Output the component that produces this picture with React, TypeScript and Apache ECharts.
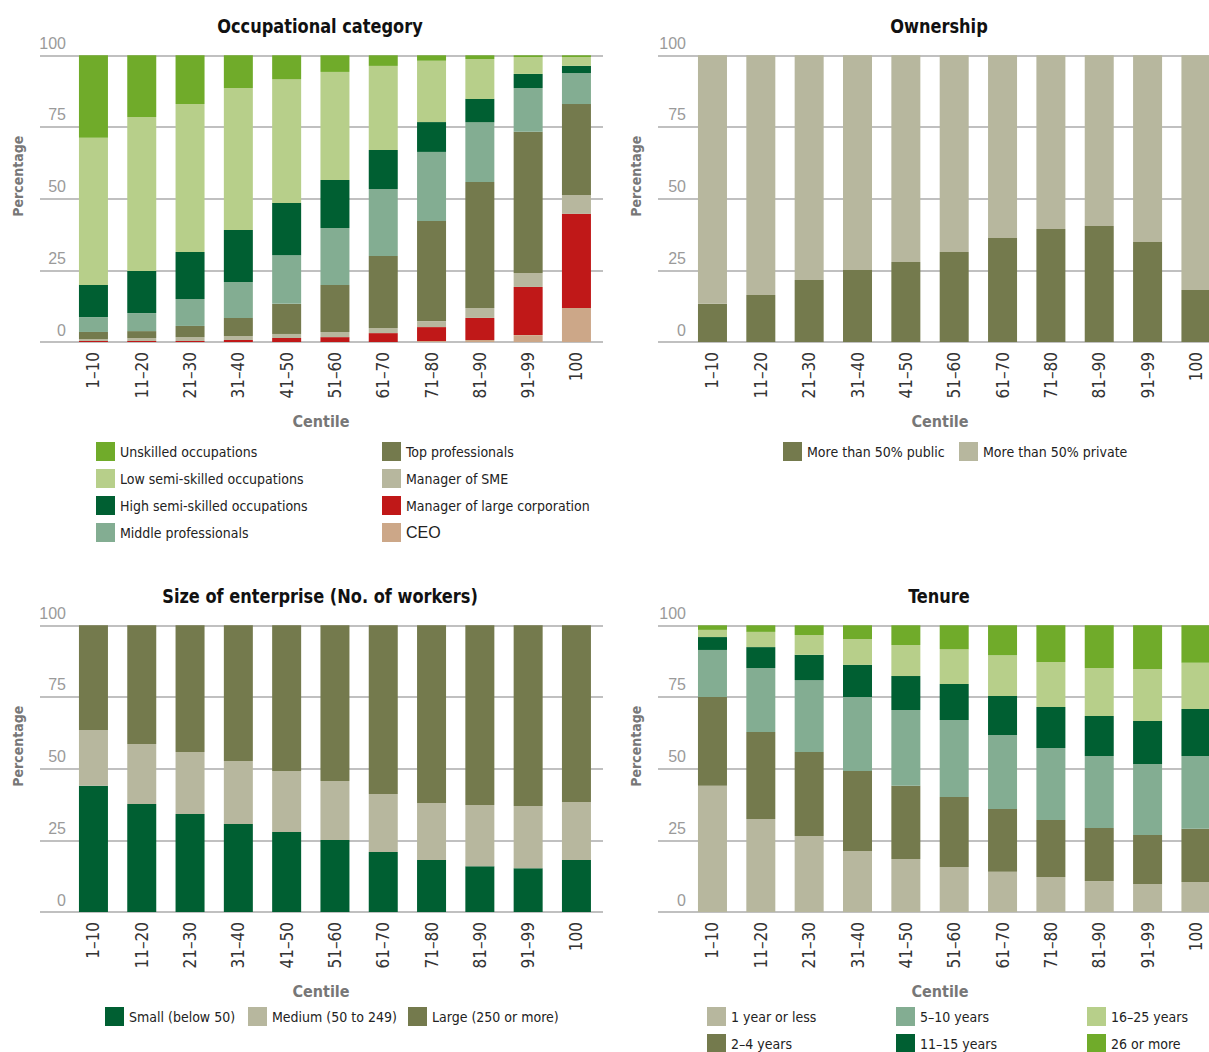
import React, { useEffect, useRef } from "react";
import * as echarts from "echarts";

// ---------- data ----------
const categories = ["1–10", "11–20", "21–30", "31–40", "41–50", "51–60", "61–70", "71–80", "81–90", "91–99", "100"];
const yTicks = [0, 25, 50, 75, 100];

// Occupational category (bottom → top)
const ceo = [0, 0, 0, 0, 0, 0, 0, 0.35, 0.7, 2.4, 11.9];
const managerLarge = [0.35, 0.35, 0.35, 0.7, 1.4, 1.7, 3.1, 4.85, 7.7, 16.8, 32.8];
const managerSME = [0.7, 1.05, 1.35, 1.4, 1.4, 1.8, 1.8, 2.1, 3.5, 4.9, 6.6];
const topProf = [2.45, 2.4, 3.9, 6.3, 10.5, 16.4, 25.1, 34.9, 43.9, 49.2, 31.7];
const middleProf = [5.2, 6.3, 9.4, 12.5, 17.0, 19.9, 23.4, 24.1, 20.9, 15.3, 10.8];
const highSemi = [11.2, 14.7, 16.4, 18.2, 18.2, 16.7, 13.6, 10.4, 8.1, 4.9, 2.5];
const lowSemi = [51.3, 53.7, 51.6, 49.5, 43.2, 37.7, 29.3, 21.4, 13.9, 5.9, 3.1];
const unskilled = [28.8, 21.5, 17.0, 11.4, 8.3, 5.8, 3.7, 1.9, 1.3, 0.6, 0.6];

// Ownership
const publicOwn = [13.3, 16.4, 21.6, 25.1, 27.9, 31.4, 36.3, 39.4, 40.5, 34.9, 18.1];
const privateOwn = [86.7, 83.6, 78.4, 74.9, 72.1, 68.6, 63.7, 60.6, 59.5, 65.1, 81.9];

// Size of enterprise
const sizeSmall = [44.0, 37.7, 34.2, 30.7, 27.9, 25.1, 20.9, 18.1, 16.0, 15.3, 18.1];
const sizeMedium = [19.5, 20.9, 21.6, 22.0, 21.3, 20.6, 20.3, 19.9, 21.3, 21.7, 20.3];
const sizeLarge = [36.5, 41.4, 44.2, 47.3, 50.8, 54.3, 58.8, 62.0, 62.7, 63.0, 61.6];

// Tenure
const ten1 = [44.0, 32.4, 26.5, 21.3, 18.5, 15.7, 14.0, 12.2, 10.8, 9.8, 10.5];
const ten2to4 = [31.0, 30.4, 29.3, 27.9, 25.5, 24.4, 21.9, 19.9, 18.5, 17.1, 18.5];
const ten5to10 = [16.4, 22.3, 25.1, 25.8, 26.5, 26.9, 25.8, 25.1, 25.1, 24.7, 25.4];
const ten11to15 = [4.5, 7.3, 8.8, 11.2, 11.8, 12.5, 13.6, 14.3, 14.0, 15.0, 16.4];
const ten16to25 = [2.5, 5.3, 6.9, 9.0, 10.8, 12.2, 14.2, 15.7, 16.7, 18.2, 16.1];
const ten26plus = [1.6, 2.3, 3.4, 4.8, 6.9, 8.3, 10.5, 12.8, 14.9, 15.2, 13.1];

// ---------- styles ----------
const C = {
  bright: "#70AB2A",
  light: "#B7CF8A",
  dark: "#005F32",
  sage: "#83AD92",
  olive: "#747A4D",
  khaki: "#B7B79E",
  red: "#C01818",
  tan: "#CCA788",
};
const COND = "'Liberation Sans Narrow', 'DejaVu Sans Condensed', 'Liberation Sans', sans-serif";
const REG = "'Liberation Sans', Arial, sans-serif";

const panels = [
  { frameLeft: 40, frameWidth: 563, barLeft: 69.3, barW: 531.3, top: 55.3, height: 286.7, cx: 320, title: "Occupational category" },
  { frameLeft: 658, frameWidth: 551, barLeft: 688.3, barW: 531.8, top: 55.3, height: 286.7, cx: 939, title: "Ownership" },
  { frameLeft: 40, frameWidth: 563, barLeft: 69.3, barW: 531.3, top: 625.3, height: 286.7, cx: 320, title: "Size of enterprise (No. of workers)" },
  { frameLeft: 658, frameWidth: 551, barLeft: 688.3, barW: 531.8, top: 625.3, height: 286.7, cx: 939, title: "Tenure" },
];

const panelSeries: { name: string; data: number[]; color: string }[][] = [
  [
    { name: "CEO", data: ceo, color: C.tan },
    { name: "Manager of large corporation", data: managerLarge, color: C.red },
    { name: "Manager of SME", data: managerSME, color: C.khaki },
    { name: "Top professionals", data: topProf, color: C.olive },
    { name: "Middle professionals", data: middleProf, color: C.sage },
    { name: "High semi-skilled occupations", data: highSemi, color: C.dark },
    { name: "Low semi-skilled occupations", data: lowSemi, color: C.light },
    { name: "Unskilled occupations", data: unskilled, color: C.bright },
  ],
  [
    { name: "More than 50% public", data: publicOwn, color: C.olive },
    { name: "More than 50% private", data: privateOwn, color: C.khaki },
  ],
  [
    { name: "Small (below 50)", data: sizeSmall, color: C.dark },
    { name: "Medium (50 to 249)", data: sizeMedium, color: C.khaki },
    { name: "Large (250 or more)", data: sizeLarge, color: C.olive },
  ],
  [
    { name: "1 year or less", data: ten1, color: C.khaki },
    { name: "2–4 years", data: ten2to4, color: C.olive },
    { name: "5–10 years", data: ten5to10, color: C.sage },
    { name: "11–15 years", data: ten11to15, color: C.dark },
    { name: "16–25 years", data: ten16to25, color: C.light },
    { name: "26 or more", data: ten26plus, color: C.bright },
  ],
];

const legendBlocks: { left: number; top: number; names: string[] }[] = [
  { left: 96, top: 442, names: ["Unskilled occupations", "Low semi-skilled occupations", "High semi-skilled occupations", "Middle professionals"] },
  { left: 382, top: 442, names: ["Top professionals", "Manager of SME", "Manager of large corporation", "CEO"] },
  { left: 783, top: 442, names: ["More than 50% public"] },
  { left: 959, top: 442, names: ["More than 50% private"] },
  { left: 105, top: 1007, names: ["Small (below 50)"] },
  { left: 248, top: 1007, names: ["Medium (50 to 249)"] },
  { left: 408, top: 1007, names: ["Large (250 or more)"] },
  { left: 707, top: 1007, names: ["1 year or less"] },
  { left: 707, top: 1034, names: ["2–4 years"] },
  { left: 896, top: 1007, names: ["5–10 years"] },
  { left: 896, top: 1034, names: ["11–15 years"] },
  { left: 1087, top: 1007, names: ["16–25 years"] },
  { left: 1087, top: 1034, names: ["26 or more"] },
];

function buildOption() {
  const grid: any[] = [];
  const xAxis: any[] = [];
  const yAxis: any[] = [];
  const series: any[] = [];
  const graphic: any[] = [];
  const yMin = yTicks[0];
  const yMax = yTicks[yTicks.length - 1];
  const yInt = yTicks[1] - yTicks[0];

  panels.forEach((p, k) => {
    const fi = 2 * k;
    const bi = 2 * k + 1;
    grid.push({ left: p.frameLeft, top: p.top, width: p.frameWidth, height: p.height });
    grid.push({ left: p.barLeft, top: p.top, width: p.barW, height: p.height });
    xAxis.push({ gridIndex: fi, type: "value", show: false, min: 0, max: 1 });
    xAxis.push({
      gridIndex: bi,
      type: "category",
      data: categories,
      axisLine: { show: false },
      axisTick: { show: false },
      axisLabel: {
        rotate: 90,
        margin: 10,
        fontSize: 17,
        fontFamily: COND,
        color: "#333",
        interval: 0,
      },
    });
    yAxis.push({
      gridIndex: fi,
      type: "value",
      min: yMin,
      max: yMax,
      interval: yInt,
      axisLine: { show: false },
      axisTick: { show: false },
      splitLine: { show: true, lineStyle: { color: "#ababab", width: 1.5 } },
      axisLabel: {
        inside: true,
        align: "right",
        margin: 26 + (k % 2 === 1 ? 2 : 0),
        verticalAlign: "bottom",
        padding: [0, 0, 4, 0],
        color: "#9a9a9a",
        fontSize: 16,
        fontFamily: REG,
      },
    });
    yAxis.push({ gridIndex: bi, type: "value", min: yMin, max: yMax, show: false });

    panelSeries[k].forEach((s) => {
      series.push({
        type: "bar",
        name: s.name,
        data: s.data,
        stack: "p" + k,
        xAxisIndex: bi,
        yAxisIndex: bi,
        barWidth: 29,
        itemStyle: { color: s.color },
        emphasis: { disabled: true },
      });
    });

    graphic.push({
      type: "text",
      x: p.cx,
      y: p.top - 30,
      scaleX: 0.9,
      style: {
        text: p.title,
        textAlign: "center",
        textVerticalAlign: "middle",
        fontSize: 20,
        fontWeight: "bold",
        fontFamily: COND,
        fill: "#111",
      },
    });
    graphic.push({
      type: "text",
      x: p.frameLeft - 22,
      y: p.top + 121,
      rotation: Math.PI / 2,
      style: {
        text: "Percentage",
        textAlign: "center",
        textVerticalAlign: "middle",
        fontSize: 14,
        fontWeight: "bold",
        fontFamily: COND,
        fill: "#777",
      },
    });
    graphic.push({
      type: "text",
      x: p.cx + 1,
      y: p.top + p.height + 79,
      style: {
        text: "Centile",
        textAlign: "center",
        textVerticalAlign: "middle",
        fontSize: 16,
        fontWeight: "bold",
        fontFamily: COND,
        fill: "#777",
      },
    });
  });

  const legend = legendBlocks.map((b) => ({
    left: b.left,
    top: b.top,
    orient: "vertical",
    padding: 0,
    itemGap: 8,
    itemWidth: 19,
    itemHeight: 19,
    icon: "rect",
    selectedMode: false,
    data: b.names,
    formatter: (name: string) => (name === "CEO" ? "{r|CEO}" : name),
    textStyle: {
      fontSize: 14,
      fontFamily: COND,
      color: "#222",
      rich: { r: { fontSize: 16, fontFamily: REG, color: "#222" } },
    },
  }));

  return {
    animation: false,
    backgroundColor: "#fff",
    grid,
    xAxis,
    yAxis,
    series,
    legend,
    graphic,
  };
}

export default function App() {
  const ref = useRef<HTMLDivElement>(null);
  useEffect(() => {
    if (!ref.current) return;
    const chart = echarts.init(ref.current, undefined, { renderer: "svg" });
    chart.setOption(buildOption() as any);
    return () => chart.dispose();
  }, []);
  return (
    <div
      style={{ position: "absolute", left: 0, top: 0, width: 1209, height: 1052, overflow: "hidden", background: "#fff" }}
    >
      <div ref={ref} style={{ width: 1240, height: 1070 }} />
    </div>
  );
}
